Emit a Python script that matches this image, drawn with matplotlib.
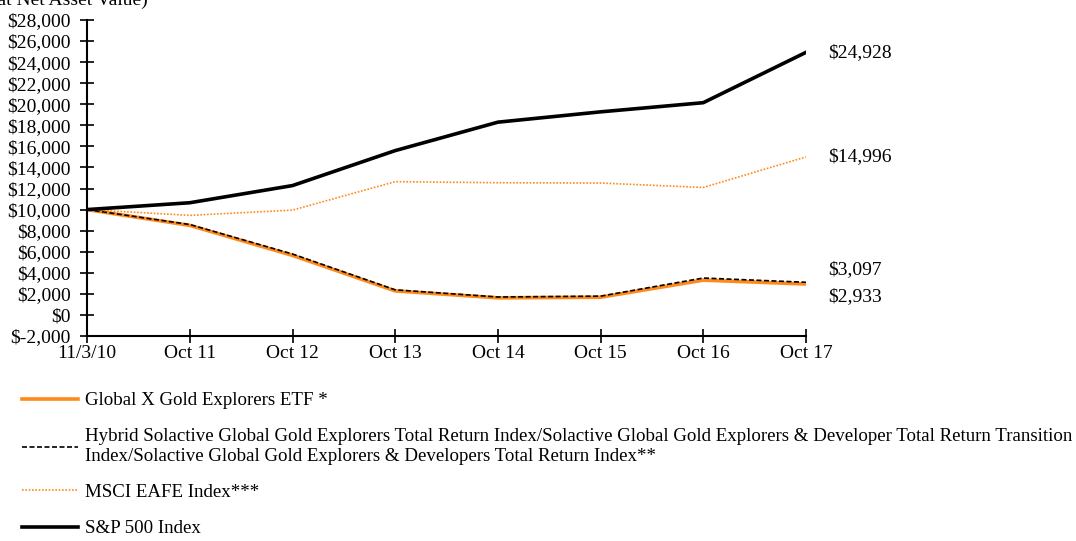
import matplotlib
matplotlib.use("Agg")
import matplotlib.pyplot as plt

plt.rcParams['font.family'] = ['Liberation Serif', 'DejaVu Serif']

# chart data
dates = ['11/3/10', 'Oct 11', 'Oct 12', 'Oct 13', 'Oct 14', 'Oct 15', 'Oct 16', 'Oct 17']
etf = [10000, 8500, 5650, 2280, 1620, 1680, 3300, 2933]
hybrid = [10000, 8580, 5780, 2380, 1700, 1780, 3500, 3097]
msci = [10000, 9450, 9950, 12650, 12550, 12520, 12100, 14996]
sp500 = [10000, 10650, 12280, 15600, 18300, 19280, 20150, 24928]

end_labels = ['$24,928', '$14,996', '$3,097', '$2,933']
y_ticks = list(range(-2000, 28001, 2000))

orange = '#FF8A1C'

fig = plt.figure(figsize=(10.76, 5.41), dpi=100)
ax = fig.add_axes([0.081, 0.379, 0.668, 0.584])

x = range(len(dates))
ax.plot(x, etf, color=orange, lw=2.6, label='Global X Gold Explorers ETF *')
ax.plot(x, hybrid, color='black', lw=1.2, ls=(0, (3, 1.5)),
        label='Hybrid Solactive Global Gold Explorers Total Return Index/Solactive Global Gold Explorers & Developer Total Return Transition\n'
              'Index/Solactive Global Gold Explorers & Developers Total Return Index**')
ax.plot(x, msci, color=orange, lw=1.2, ls=(0, (1, 1)), label='MSCI EAFE Index***')
ax.plot(x, sp500, color='black', lw=2.6, label='S&P 500 Index')

ax.set_xlim(0, len(dates) - 1)
ax.set_ylim(-2000, 28000)
ax.set_xticks(list(x))
ax.set_xticklabels(dates)
ax.set_yticks(y_ticks)
ax.set_yticklabels([('$' + format(v, ',')) if v >= 0 else '$-' + format(-v, ',') for v in y_ticks])
ax.tick_params(direction='inout', length=9.5, width=1.2, labelsize=14)
ax.tick_params(axis='y', pad=7)
ax.tick_params(axis='x', pad=2)
for s in ['top', 'right']:
    ax.spines[s].set_visible(False)
for s in ['left', 'bottom']:
    ax.spines[s].set_linewidth(1.5)

# end of series labels
last = len(dates) - 1
for val, lab, dy in zip([sp500[-1], msci[-1], hybrid[-1], etf[-1]], end_labels, [0, 0, 9, -9]):
    ax.annotate(lab, (last, val), xytext=(16, dy), textcoords='offset points',
                va='center', ha='left', fontsize=14, annotation_clip=False)

fig.text(-0.008, 1.016, '(at Net Asset Value)', fontsize=14, ha='left', va='top')

fig.legend(loc='upper left', bbox_to_anchor=(0.013, 0.289), frameon=False,
           fontsize=13.6, handlelength=3.0, handletextpad=0.37, labelspacing=1.0,
           borderaxespad=0)

fig.savefig('out.png', dpi=100)
